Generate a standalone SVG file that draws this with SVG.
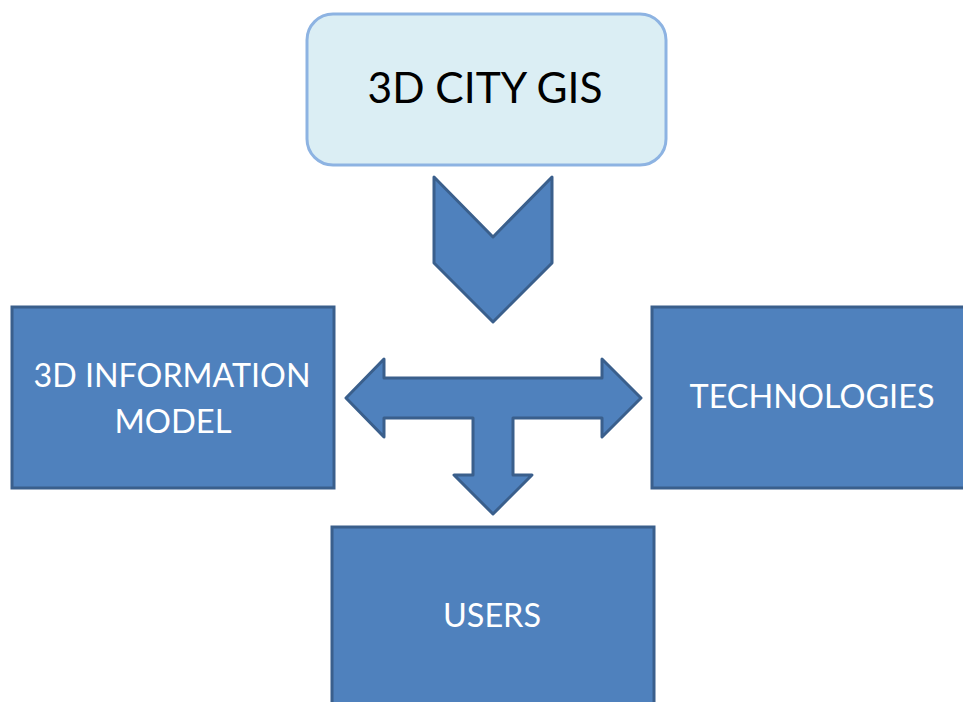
<svg xmlns="http://www.w3.org/2000/svg" width="963" height="702" viewBox="0 0 963 702">
<style>
.box{fill:#4F81BD;stroke:#3A5F8C;stroke-width:3}
.arrow{fill:#4F81BD;stroke:#3A5F8C;stroke-width:3;stroke-linejoin:round}
.wt{font-family:Lato,"Open Sans","Liberation Sans",sans-serif;font-size:33px;fill:#FFFFFF;text-anchor:middle}
.bt{font-family:Lato,"Open Sans","Liberation Sans",sans-serif;font-size:43px;fill:#000000;text-anchor:middle}
</style>
<rect width="963" height="702" fill="#FFFFFF"/>
<g id="city-gis">
<rect x="307" y="14" width="359" height="151" rx="26" ry="26" fill="#DBEEF4" stroke="#8DB3E2" stroke-width="3"/>
<text class="bt" x="485" y="103" textLength="235" lengthAdjust="spacingAndGlyphs">3D CITY GIS</text>
</g>
<g id="connectors">
<polygon class="arrow" points="434,177 493,237 552,177 552,263 493,322 434,263"/>
<polygon class="arrow" points="346,398 384,359 384,378 602,378 602,359 641,398 602,437 602,418 513,418 513,475 532,475 493,514 454,475 473,475 473,418 384,418 384,437"/>
</g>
<g id="info-model">
<rect class="box" x="12" y="307" width="322" height="181"/>
<text class="wt" x="172" y="387" textLength="277" lengthAdjust="spacingAndGlyphs">3D INFORMATION</text>
<text class="wt" x="173" y="433" textLength="117" lengthAdjust="spacingAndGlyphs">MODEL</text>
</g>
<g id="technologies">
<rect class="box" x="652" y="307" width="320" height="181"/>
<text class="wt" x="812" y="408" textLength="245" lengthAdjust="spacingAndGlyphs">TECHNOLOGIES</text>
</g>
<g id="users">
<rect class="box" x="332" y="527" width="322" height="190"/>
<text class="wt" x="492" y="627" textLength="98" lengthAdjust="spacingAndGlyphs">USERS</text>
</g>
</svg>
